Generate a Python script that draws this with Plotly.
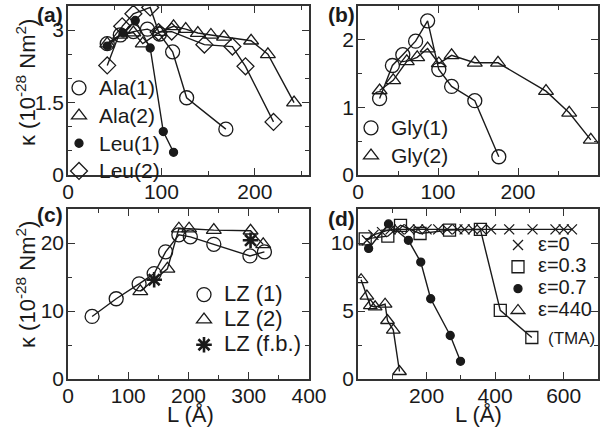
import plotly.graph_objects as go

# ---------------- data ----------------
# panel (a)
ala1_L = [42, 56, 70, 85, 98, 112, 127, 169]
ala1_k = [2.72, 2.9, 2.97, 3.02, 2.92, 2.55, 1.6, 0.95]
ala2_L = [42, 56, 70, 80, 98, 113, 126, 139, 153, 167, 196, 214, 242]
ala2_k = [2.72, 2.9, 2.95, 2.72, 2.96, 3.08, 3.02, 2.94, 2.9, 2.86, 2.78, 2.5, 1.5]
leu1_L = [42, 59, 72, 88, 102, 113]
leu1_k = [2.67, 2.94, 3.2, 2.63, 0.9, 0.47]
leu2_L = [42, 58, 70, 88, 97, 111, 146, 176, 190, 220]
leu2_k = [2.27, 3.08, 3.34, 3.47, 2.96, 2.97, 2.7, 2.66, 2.25, 1.1]

# panel (b)
gly1_L = [27, 43, 56, 72, 87, 101, 117, 146, 176]
gly1_k = [1.13, 1.62, 1.78, 1.98, 2.28, 1.56, 1.31, 1.1, 0.27]
gly2_L = [27, 44, 61, 74, 87, 101, 117, 146, 175, 235, 264, 291]
gly2_k = [1.25, 1.4, 1.68, 1.74, 1.87, 1.65, 1.77, 1.66, 1.66, 1.24, 0.92, 0.52]

# panel (c)
lz1_L = [40, 80, 118, 143, 162, 184, 203, 242, 302, 326]
lz1_k = [9.2, 11.8, 14.0, 15.5, 18.7, 21.2, 20.9, 19.8, 18.1, 18.7]
lz2_L = [120, 165, 184, 201, 242, 303, 324]
lz2_k = [12.9, 16.2, 22.1, 22.1, 21.9, 21.8, 19.8]
lzfb_L = [143, 303]
lzfb_k = [14.6, 20.4]

# panel (d)
e0_L = [26, 45, 70, 95, 120, 150, 175, 200, 234, 260, 290, 311, 335, 360, 388, 441, 509, 576, 600, 624]
e0_k = [10.2, 10.6, 10.8, 11.0, 11.0, 11.0, 11.0, 11.0, 11.0, 11.0, 11.0, 11.0, 11.0, 11.0, 11.0, 11.0, 11.0, 11.0, 11.0, 11.0]
e03_L = [21, 87, 124, 181, 267, 357, 415, 507]
e03_k = [10.3, 10.5, 11.3, 10.7, 10.95, 11.0, 5.05, 3.05]
e07_L = [31, 89, 147, 183, 212, 269, 299]
e07_k = [9.6, 11.4, 10.2, 8.6, 5.9, 3.2, 1.3]
e440_L = [9, 26, 36, 50, 79, 86, 103, 121]
e440_k = [7.3, 6.1, 5.4, 5.3, 5.5, 4.3, 3.6, 0.55]

# ---------------- style ----------------
FONT = "Arial, Liberation Sans, sans-serif"
INK = "#1a1a1a"

W, H = 600, 432


def px_x(px):
    return px / W


def px_y(py):
    return 1 - py / H


fig = go.Figure()


def add_series(L, k, name, symbol, size, xa, ya, legend, txt_size, connect=True, lw=1.3):
    if connect:
        fig.add_trace(go.Scatter(x=L, y=k, mode="lines", line=dict(color=INK, width=1.4),
                                 showlegend=False, xaxis=xa, yaxis=ya, hoverinfo="skip"))
    mk = dict(symbol=symbol, size=size, color=INK, line=dict(color=INK, width=lw))
    label = "<span style='font-size:%dpx'>%s</span>" % (txt_size, name)
    fig.add_trace(go.Scatter(x=L, y=k, mode="markers", marker=mk, name=label,
                             xaxis=xa, yaxis=ya, legend=legend))


add_series(ala1_L, ala1_k, "Ala(1)", "circle-open", 14, "x", "y", "legend", 21)
add_series(ala2_L, ala2_k, "Ala(2)", "triangle-up-open", 13, "x", "y", "legend", 21)
add_series(leu1_L, leu1_k, "Leu(1)", "circle", 8, "x", "y", "legend", 21)
add_series(leu2_L, leu2_k, "Leu(2)", "diamond-open", 13, "x", "y", "legend", 21)

add_series(gly1_L, gly1_k, "Gly(1)", "circle-open", 14, "x2", "y2", "legend2", 21)
add_series(gly2_L, gly2_k, "Gly(2)", "triangle-up-open", 13, "x2", "y2", "legend2", 21)

add_series(lz1_L, lz1_k, "LZ (1)", "circle-open", 14, "x3", "y3", "legend3", 22)
add_series(lz2_L, lz2_k, "LZ (2)", "triangle-up-open", 13, "x3", "y3", "legend3", 22)
add_series(lzfb_L, lzfb_k, "LZ (f.b.)", "asterisk-open", 13, "x3", "y3", "legend3", 22,
           connect=False, lw=2.6)

add_series(e0_L, e0_k, "ε=0", "x-thin-open", 10, "x4", "y4", "legend4", 20)
add_series(e03_L, e03_k, "ε=0.3", "square-open", 12, "x4", "y4", "legend4", 20)
add_series(e07_L, e07_k, "ε=0.7", "circle", 8, "x4", "y4", "legend4", 20)
add_series(e440_L, e440_k, "ε=440", "triangle-up-open", 12, "x4", "y4", "legend4", 20)


def ax(domain, rng, minor, anchor, tickvals, standoff):
    return dict(domain=domain, range=rng, anchor=anchor, showgrid=False, zeroline=False,
                automargin=False,
                showline=True, linecolor="#333", linewidth=1.5, mirror="ticks",
                ticks="inside", ticklen=7, tickwidth=1.4, tickcolor="#333",
                tickfont=dict(family=FONT, size=21, color=INK),
                ticklabelstandoff=standoff,
                tickmode="array", tickvals=tickvals, ticktext=[str(v) for v in tickvals],
                minor=dict(tick0=0, dtick=minor, ticks="inside", ticklen=4, tickwidth=1.2,
                           tickcolor="#333"))


xa_left = [px_x(68), px_x(309)]
xa_right = [px_x(358), px_x(598)]
ya_top = [px_y(175), px_y(6)]
ya_bot = [px_y(379), px_y(209)]


def leg(x_px, y_px, fsize):
    return dict(x=px_x(x_px), y=px_y(y_px), xanchor="left", yanchor="top",
                bgcolor="rgba(0,0,0,0)", font=dict(family=FONT, size=fsize, color=INK),
                itemwidth=30, tracegroupgap=0)


fig.update_layout(
    width=W, height=H, margin=dict(l=0, r=0, t=0, b=0, autoexpand=False),
    paper_bgcolor="white", plot_bgcolor="white",
    font=dict(family=FONT, color=INK),
    xaxis=ax(xa_left, [0, 258], 50, "y", [0, 100, 200], -3),
    yaxis=ax(ya_top, [0, 3.5], 0.5, "x", [0, 1.5, 3], -2),
    xaxis2=ax(xa_right, [0, 300], 50, "y2", [0, 100, 200], -3),
    yaxis2=ax(ya_top, [0, 2.5], 0.5, "x2", [0, 1, 2], -2),
    xaxis3=ax(xa_left, [0, 400], 50, "y3", [0, 100, 200, 300, 400], -3),
    yaxis3=ax(ya_bot, [0, 25], 5, "x3", [0, 10, 20], -2),
    xaxis4=ax(xa_right, [0, 700], 100, "y4", [200, 400, 600], -3),
    yaxis4=ax(ya_bot, [0, 12.5], 2.5, "x4", [0, 5, 10], -2),
    legend=leg(59, 69, 19),
    legend2=leg(351, 109, 19),
    legend3=leg(184, 277, 17),
    legend4=leg(498, 229, 14.5),
    showlegend=True,
)

ann = []
ktitle = "κ (10<sup>-28</sup> Nm<sup>2</sup>)"
ann.append(dict(text=ktitle, x=px_x(26), y=px_y(83), textangle=-90, font=dict(size=22)))
ann.append(dict(text=ktitle, x=px_x(26), y=px_y(285), textangle=-90, font=dict(size=22)))
ann.append(dict(text="L (Å)", x=px_x(190), y=px_y(414), font=dict(size=22)))
ann.append(dict(text="L (Å)", x=px_x(478), y=px_y(414), font=dict(size=22)))
ann.append(dict(text="<b>(a)</b>", x=px_x(50), y=px_y(15), font=dict(size=21)))
ann.append(dict(text="<b>(b)</b>", x=px_x(341), y=px_y(15), font=dict(size=21)))
ann.append(dict(text="<b>(c)</b>", x=px_x(50), y=px_y(215), font=dict(size=21)))
ann.append(dict(text="<b>(d)</b>", x=px_x(341), y=px_y(218), font=dict(size=21)))
ann.append(dict(text="(TMA)", x=px_x(571), y=px_y(338), font=dict(size=17)))
for a in ann:
    a.update(xref="paper", yref="paper", showarrow=False, xanchor="center", yanchor="middle")
    a["font"].update(family=FONT, color=INK)
fig.update_layout(annotations=ann)

# remove the page's default 8px body margin so the figure sits at the window's corner
fig.write_html("out.html", config={"displayModeBar": False},
               post_script="document.body.style.margin='0px';")
